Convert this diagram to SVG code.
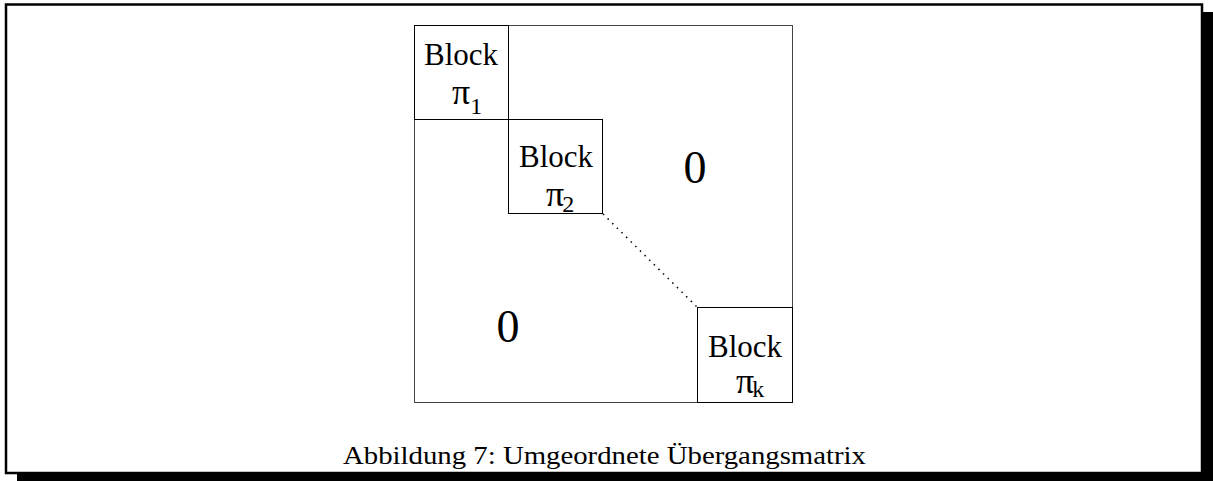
<svg xmlns="http://www.w3.org/2000/svg" width="1213" height="481" viewBox="0 0 1213 481">
  <style>
    .cell { fill: none; stroke: #000; stroke-width: 1; }
    .outer { fill: none; stroke: #444; stroke-width: 1; }
    .lbl { font-family: "Liberation Serif", "Times New Roman", serif; font-size: 31px; fill: #000; text-anchor: middle; }
    .pi { font-family: "Liberation Serif", "Times New Roman", serif; font-size: 36px; fill: #000; }
    .sub { font-size: 24px; }
    .zero { font-family: "Liberation Serif", "Times New Roman", serif; font-size: 46px; fill: #000; text-anchor: middle; }
    .cap { font-family: "Liberation Serif", "DejaVu Serif", serif; font-size: 25px; fill: #000; }
  </style>

  <!-- page frame with drop shadow -->
  <g id="frame">
    <rect x="1202" y="12" width="11" height="469" fill="#000"/>
    <rect x="17" y="473" width="1196" height="8" fill="#000"/>
    <rect x="6" y="4.5" width="1196" height="468.5" fill="none" stroke="#000" stroke-width="2.5"/>
  </g>

  <!-- whole matrix -->
  <g id="matrix">
    <rect class="outer" x="414.5" y="25.5" width="378" height="377"/>
  </g>

  <g id="block1">
    <rect class="cell" x="414.5" y="25.5" width="94" height="94"/>
    <text class="lbl" x="461" y="65">Block</text>
    <text class="pi" x="452" y="104">π<tspan class="sub" dy="10">1</tspan></text>
  </g>

  <g id="block2">
    <rect class="cell" x="508.5" y="119.5" width="94" height="94"/>
    <text class="lbl" x="556" y="167">Block</text>
    <text class="pi" x="546" y="206">π<tspan class="sub" dx="-2" dy="6">2</tspan></text>
  </g>

  <g id="blockk">
    <rect class="cell" x="697.5" y="307.5" width="95" height="95"/>
    <text class="lbl" x="745" y="357">Block</text>
    <text class="pi" x="736" y="393">π<tspan class="sub" dx="-2" dy="4">k</tspan></text>
  </g>

  <g id="zero-upper">
    <text class="zero" x="695" y="183">0</text>
  </g>

  <g id="zero-lower">
    <text class="zero" x="508" y="342">0</text>
  </g>

  <!-- dotted diagonal between the blocks -->
  <g id="connectors">
    <line x1="603" y1="214" x2="697" y2="307" stroke="#000" stroke-width="1.5" stroke-dasharray="1.5 5"/>
  </g>

  <g id="caption">
    <text class="cap" x="343" y="464" textLength="523" lengthAdjust="spacingAndGlyphs">Abbildung 7: Umgeordnete Übergangsmatrix</text>
  </g>
</svg>
